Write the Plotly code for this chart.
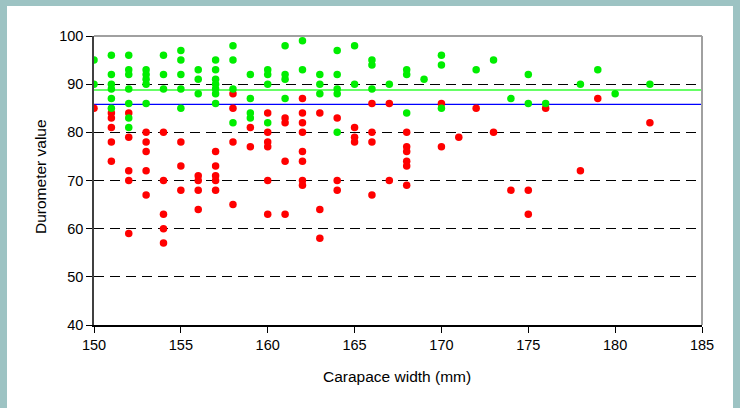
import plotly.graph_objects as go

x_ticks = [150, 155, 160, 165, 170, 175, 180, 185]
y_ticks = [40, 50, 60, 70, 80, 90, 100]

red_x = [150,
         151, 151, 151, 151, 151,
         152, 152, 152, 152, 152,
         153, 153, 153, 153, 153,
         154, 154, 154, 154, 154,
         155, 155, 155,
         156, 156, 156, 156,
         157, 157, 157, 157, 157,
         158, 158, 158, 158,
         159, 159,
         160, 160, 160, 160, 160, 160,
         161, 161, 161, 161,
         162, 162, 162, 162, 162, 162, 162, 162,
         163, 163, 163,
         164, 164, 164,
         165, 165, 165,
         166, 166, 166, 166,
         167, 167,
         168, 168, 168, 168, 168, 168,
         170, 170, 171, 172, 173, 174, 175, 175, 176, 178, 179, 182]
red_y = [85,
         84, 83, 81, 78, 74,
         84, 79, 72, 70, 59,
         80, 78, 76, 72, 67,
         80, 70, 63, 60, 57,
         78, 73, 68,
         71, 70, 68, 64,
         76, 73, 71, 70, 68,
         88, 85, 78, 65,
         81, 77,
         84, 80, 78, 77, 70, 63,
         83, 82, 74, 63,
         87, 84, 82, 80, 76, 74, 70, 69,
         84, 64, 58,
         83, 70, 68,
         81, 79, 78,
         86, 80, 78, 67,
         86, 70,
         80, 77, 76, 74, 73, 69,
         86, 77, 79, 85, 80, 68, 68, 63, 85, 72, 87, 82]

green_x = [150, 150,
           151, 151, 151, 151, 151, 151,
           152, 152, 152, 152, 152, 152, 152,
           153, 153, 153, 153, 153,
           154, 154, 154,
           155, 155, 155, 155, 155,
           156, 156, 156,
           157, 157, 157, 157, 157, 157, 157,
           158, 158, 158, 158,
           159, 159, 159, 159,
           160, 160, 160, 160,
           161, 161, 161, 161,
           162, 162,
           163, 163, 163,
           164, 164, 164, 164, 164,
           165, 165,
           166, 166, 166,
           167,
           168, 168, 168,
           169,
           170, 170, 170,
           172, 173, 174, 175, 175, 176, 178, 179, 180, 182]
green_y = [95, 90,
           96, 92, 90, 89, 87, 85,
           96, 93, 92, 89, 86, 83, 81,
           93, 92, 91, 90, 86,
           96, 92, 89,
           97, 95, 92, 89, 85,
           93, 91, 88,
           95, 93, 91, 90, 89, 88, 86,
           98, 95, 89, 82,
           92, 87, 84, 83,
           93, 92, 90, 82,
           98, 92, 91, 87,
           99, 93,
           92, 90, 88,
           97, 92, 89, 88, 80,
           98, 90,
           95, 94, 89,
           90,
           93, 92, 84,
           91,
           96, 94, 85,
           93, 95, 87, 92, 86, 86, 90, 93, 88, 90]

line_x = [150, 185]
green_level = 88.8
blue_level = 85.8

fig = go.Figure()
fig.add_trace(go.Scatter(x=line_x, y=[green_level] * len(line_x), mode="lines",
                         line=dict(color="#33ff33", width=1.5), hoverinfo="skip"))
fig.add_trace(go.Scatter(x=line_x, y=[blue_level] * len(line_x), mode="lines",
                         line=dict(color="#0000ff", width=1.2), hoverinfo="skip"))
fig.add_trace(go.Scatter(x=red_x, y=red_y, mode="markers",
                         marker=dict(color="#ff0000", size=7.5, line=dict(width=0))))
fig.add_trace(go.Scatter(x=green_x, y=green_y, mode="markers",
                         marker=dict(color="#00ee00", size=7.5, line=dict(width=0))))

L, R, T, B = 94, 38, 36, 83
W, H = 740, 408
pw, ph = W - L - R, H - T - B

def px(v):
    return (v - L) / pw

def py(v):
    return (H - B - v) / ph

font = "Liberation Sans, Arial, sans-serif"
fig.update_layout(
    width=W, height=H,
    margin=dict(l=L, r=R, t=T, b=B),
    paper_bgcolor="#9dc3c3",
    plot_bgcolor="white",
    showlegend=False,
    font=dict(family=font, size=14.5, color="black"),
    xaxis=dict(range=[150, 185], tickvals=x_ticks, showgrid=False, zeroline=False,
               showline=True, linecolor="#000000", linewidth=1.5,
               ticks="outside", ticklen=6, tickcolor="#000000",
               tickfont=dict(size=14.5)),
    yaxis=dict(range=[40, 100], tickvals=y_ticks, showgrid=True, gridcolor="#000000",
               griddash="10px,6px", gridwidth=1, zeroline=False,
               showline=True, linecolor="#404040", linewidth=1.5,
               ticks="outside", ticklen=6, tickcolor="#000000",
               tickfont=dict(size=14.5)),
    shapes=[
        dict(type="rect", xref="paper", yref="paper", x0=px(7), x1=px(733),
             y0=py(H + 5), y1=py(6), fillcolor="white", line=dict(width=0), layer="below"),
        dict(type="line", xref="paper", yref="paper", x0=0, x1=1, y0=1, y1=1,
             line=dict(color="#a0a0a0", width=2)),
        dict(type="line", xref="paper", yref="paper", x0=1, x1=1, y0=0, y1=1,
             line=dict(color="#a0a0a0", width=2)),
    ],
    annotations=[
        dict(text="Durometer value", xref="paper", yref="paper", x=px(40), y=py(177),
             textangle=-90, showarrow=False, xanchor="center", yanchor="middle",
             font=dict(size=15.5)),
        dict(text="Carapace width (mm)", xref="paper", yref="paper", x=px(397), y=py(376),
             showarrow=False, xanchor="center", yanchor="middle", font=dict(size=15.5)),
    ],
)

fig.write_html("out.html", config={"displayModeBar": False},
               post_script="document.body.style.margin='0px';")
